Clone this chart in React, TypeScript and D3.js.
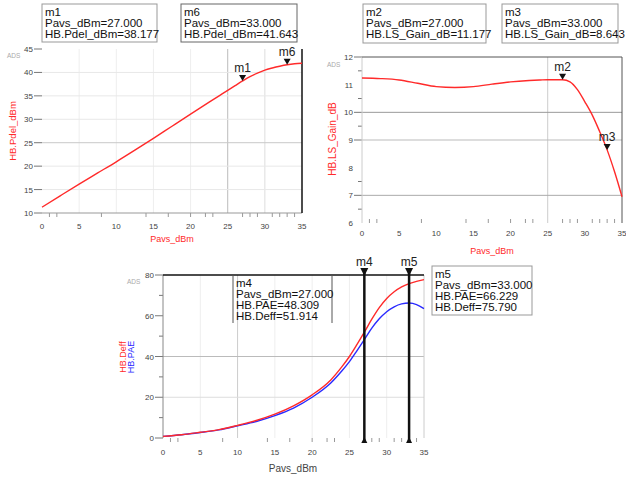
import React, { useRef, useEffect } from "react";
import * as d3 from "d3";

// sweep of available source power
const pavsDbm = [0, 2.5, 5, 7.5, 10, 12.5, 15, 17.5, 20, 22.5, 24, 25, 26, 27, 28, 29, 30, 31, 32, 33, 34, 35];
const pdelDbm = [11.24, 13.72, 16.17, 18.55, 20.93, 23.4, 25.93, 28.52, 31.1, 33.65, 35.17, 36.18, 37.18, 38.177, 39.1, 39.85, 40.5, 40.95, 41.33, 41.643, 41.85, 41.95];
const lsGainDb = [11.24, 11.22, 11.17, 11.05, 10.93, 10.9, 10.93, 11.02, 11.1, 11.15, 11.17, 11.18, 11.18, 11.177, 11.1, 10.82, 10.38, 9.9, 9.3, 8.643, 7.85, 6.95];
const deffPct = [0.8, 1.6, 2.8, 4.1, 6.2, 8.6, 11.7, 15.8, 21.2, 28.5, 35, 40, 45.8, 51.914, 58.3, 64.0, 68.5, 71.8, 74.2, 75.79, 76.9, 77.7];
const paePct = [0.8, 1.6, 2.7, 4.0, 6.0, 8.1, 11.0, 14.7, 20.0, 27.0, 33.0, 37.5, 42.8, 48.309, 53.9, 58.5, 62.0, 64.4, 65.8, 66.229, 65.5, 63.5];

const xTicks = [0, 5, 10, 15, 20, 25, 30, 35];
const pdelTicks = [10, 15, 20, 25, 30, 35, 40, 45];
const gainTicks = [6, 7, 8, 9, 10, 11, 12];
const effTicks = [0, 20, 40, 60, 80];
const sweepTicks = [1, 2, 8, 14, 17, 20, 22, 23, 27, 28, 29, 31, 32, 33, 34];

const m1Lines = ["m1", "Pavs_dBm=27.000", "HB.Pdel_dBm=38.177"];
const m6Lines = ["m6", "Pavs_dBm=33.000", "HB.Pdel_dBm=41.643"];
const m2Lines = ["m2", "Pavs_dBm=27.000", "HB.LS_Gain_dB=11.177"];
const m3Lines = ["m3", "Pavs_dBm=33.000", "HB.LS_Gain_dB=8.643"];
const m4Lines = ["m4", "Pavs_dBm=27.000", "HB.PAE=48.309", "HB.Deff=51.914"];
const m5Lines = ["m5", "Pavs_dBm=33.000", "HB.PAE=66.229", "HB.Deff=75.790"];

const FONT = "'Liberation Sans', Arial, sans-serif";
const RED = "#ff2a2a";
const BLUE = "#2a2aff";

export default function App() {

	const ref = useRef(null);

	useEffect(() => {

		const svg = d3.select(ref.current);
		svg.selectAll("*").remove();

		const hline = (g, x1, x2, y, color, w = 1) =>
			g.append("line").attr("x1", x1).attr("x2", x2).attr("y1", y).attr("y2", y)
				.attr("stroke", color).attr("stroke-width", w);
		const vline = (g, x, y1, y2, color, w = 1) =>
			g.append("line").attr("x1", x).attr("x2", x).attr("y1", y1).attr("y2", y2)
				.attr("stroke", color).attr("stroke-width", w);

		function text(g, x, y, s, size, color, anchor = "start") {
			return g.append("text").attr("x", x).attr("y", y).text(s)
				.attr("font-family", FONT).attr("font-size", size)
				.attr("fill", color).attr("text-anchor", anchor);
		}

		function markerBox(g, x, y, w, h, lines, border, sides = false) {
			if (sides) {
				vline(g, x, y, y + h, border);
				vline(g, x + w, y, y + h, border);
			} else {
				g.append("rect").attr("x", x).attr("y", y).attr("width", w).attr("height", h)
					.attr("fill", "white").attr("stroke", border);
			}
			lines.forEach((l, i) => text(g, x + 3, y + 11.5 + i * 11.2, l, 11.5, "#111"));
		}

		function axes(g, x, y, yTicks, opt) {
			const [y0, y1] = y.range();
			const [x0, x1] = x.range();
			opt.vGrid.forEach(([v, c]) => vline(g, x(v), y1, y0, c));
			opt.hGrid.forEach(([v, c]) => hline(g, x0, x1, y(v), c));
			yTicks.forEach(t => {
				text(g, x0 - 9, y(t) + 3, t, 8, "#444", "end");
			});
			opt.yTickLines.forEach(t => hline(g, x0 - 8, x0, y(t), "#777"));
			opt.yMinor.forEach(t => hline(g, x0 - 4, x0, y(t), "#777"));
			xTicks.forEach(t => text(g, x(t), opt.xLabelY, t, 8, "#444", "middle"));
			sweepTicks.forEach(t => vline(g, x(t), opt.sweepY[0], opt.sweepY[1], "#999"));
			text(g, opt.adsX, opt.adsY, "ADS", 6.5, "#aaa");
		}

		function curve(g, x, y, vals, color) {
			const line = d3.line()
				.x((d, i) => x(pavsDbm[i]))
				.y(d => y(d))
				.curve(d3.curveMonotoneX);
			g.append("path").datum(vals).attr("d", line)
				.attr("fill", "none").attr("stroke", color).attr("stroke-width", 1.4);
		}

		function tri(g, x, y, name) {
			g.append("path").attr("d", `M${x - 3.5},${y - 6}L${x + 3.5},${y - 6}L${x},${y}Z`).attr("fill", "#111");
			text(g, x, y - 9, name, 12, "#222", "middle");
		}

		// ---- panel 1: Pdel
		const g1 = svg.append("g");
		const x1 = d3.scaleLinear().domain([0, 35]).range([42, 302]);
		const y1 = d3.scaleLinear().domain([10, 45]).range([213, 49]);
		axes(g1, x1, y1, pdelTicks, {
			vGrid: [[5, "#eee"], [10, "#eee"], [15, "#eee"], [20, "#eee"], [25, "#bbb"], [30, "#ddd"]],
			hGrid: [[15, "#e8e8e8"], [20, "#e8e8e8"], [25, "#c8c8c8"], [30, "#e8e8e8"], [35, "#e8e8e8"], [40, "#e8e8e8"]],
			yTickLines: pdelTicks, yMinor: [],
			xLabelY: 229, sweepY: [213, 217], adsX: 7, adsY: 58
		});
		hline(g1, 42, 302, 213, "#999");
		vline(g1, 302, 49, 213, "#111", 1.5);
		curve(g1, x1, y1, pdelDbm, RED);
		tri(g1, x1(27), y1(38.177), "m1");
		tri(g1, x1(33), y1(41.643), "m6");
		text(g1, 13, 131, "HB.Pdel_dBm", 9.5, RED, "middle").attr("transform", "rotate(-90,13,131)").attr("dy", 3);
		text(g1, 172, 242, "Pavs_dBm", 9, RED, "middle");
		markerBox(g1, 42, 4, 115, 38, m1Lines, "#999");
		markerBox(g1, 181, 4, 116, 38, m6Lines, "#666");

		// ---- panel 2: LS gain
		const g2 = svg.append("g");
		const x2 = d3.scaleLinear().domain([0, 35]).range([362, 622]);
		const y2 = d3.scaleLinear().domain([6, 12]).range([223, 57]);
		axes(g2, x2, y2, gainTicks, {
			vGrid: [[25, "#ccc"]],
			hGrid: [[10, "#999"], [9, "#bbb"], [7, "#aaa"]],
			yTickLines: [12, 10, 9, 7], yMinor: [6.5, 7.5, 9.5, 10.5, 11.5],
			xLabelY: 236, sweepY: [219, 223], adsX: 327, adsY: 67
		});
		vline(g2, 362, 57, 223, "#ccc");
		hline(g2, 362, 622, 57, "#555");
		vline(g2, 622, 57, 223, "#555");
		curve(g2, x2, y2, lsGainDb, RED);
		tri(g2, x2(27), y2(11.177), "m2");
		tri(g2, x2(33), y2(8.643), "m3");
		text(g2, 333, 139, "HB.LS_Gain_dB", 10, RED, "middle").attr("transform", "rotate(-90,333,139)").attr("dy", 3);
		text(g2, 492, 254, "Pavs_dBm", 9, RED, "middle");
		markerBox(g2, 363, 4, 123, 39, m2Lines, "#999");
		markerBox(g2, 502, 4, 116, 39, m3Lines, "#999");

		// ---- panel 3: efficiency
		const g3 = svg.append("g");
		const x3 = d3.scaleLinear().domain([0, 35]).range([163, 424]);
		const y3 = d3.scaleLinear().domain([0, 80]).range([438, 275]);
		axes(g3, x3, y3, effTicks, {
			vGrid: [[5, "#eee"], [10, "#ccc"], [15, "#eee"], [20, "#eee"], [25, "#eee"], [30, "#eee"]],
			hGrid: [[20, "#ddd"], [40, "#bbb"]],
			yTickLines: effTicks, yMinor: [10, 30, 50, 70],
			xLabelY: 455, sweepY: [438, 442], adsX: 127, adsY: 284
		});
		vline(g3, 163, 275, 438, "#888");
		vline(g3, 424, 275, 438, "#ccc");
		curve(g3, x3, y3, paePct, BLUE);
		curve(g3, x3, y3, deffPct, RED);
		hline(g3, 163, 424, 275, "#111", 1.5);
		[[27, "m4"], [33, "m5"]].forEach(([v, name]) => {
			const x = x3(v);
			vline(g3, x, 268, 442, "#111", 2.5);
			g3.append("path").attr("d", `M${x - 4},${268}L${x + 4},${268}L${x},${276}Z`).attr("fill", "#111");
			g3.append("path").attr("d", `M${x - 3},${443}L${x + 3},${443}L${x},${437}Z`).attr("fill", "#111");
			text(g3, x, 266, name, 12, "#222", "middle");
		});
		text(g3, 123, 357, "HB.Deff", 9, RED, "middle").attr("transform", "rotate(-90,123,357)").attr("dy", 3);
		text(g3, 131, 357, "HB.PAE", 9, BLUE, "middle").attr("transform", "rotate(-90,131,357)").attr("dy", 3);
		text(g3, 293, 472, "Pavs_dBm", 10, "#444", "middle");
		markerBox(g3, 233, 275, 99, 48, m4Lines, "#555", true);
		markerBox(g3, 432, 266, 100, 49, m5Lines, "#999");

	}, []);

	return (
		<div style={{ position: "absolute", left: 0, top: 0 }}>
			<svg ref={ref} width={626} height={478} style={{ display: "block", background: "white" }} />
		</div>
	);
}
